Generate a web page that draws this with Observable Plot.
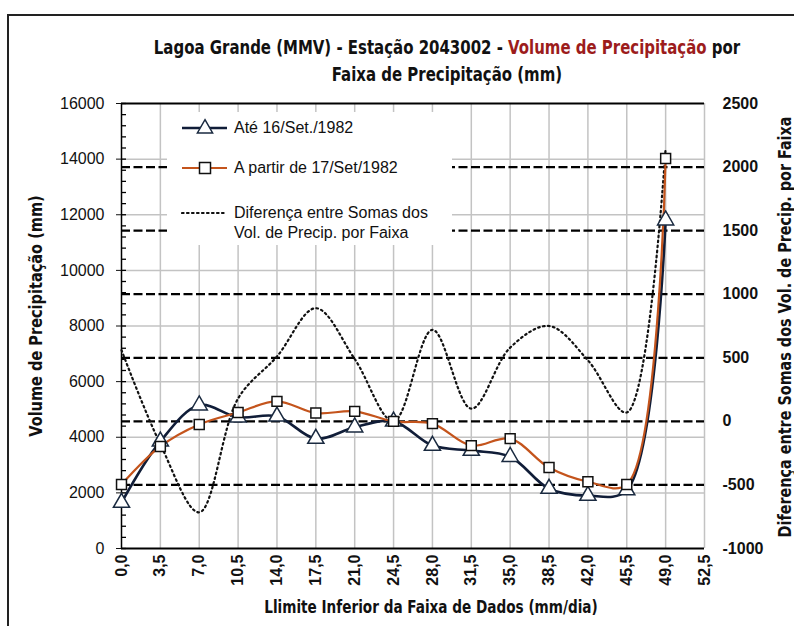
<!DOCTYPE html>
<html>
<head>
<meta charset="utf-8">
<script src="https://cdn.jsdelivr.net/npm/d3@7"></script>
<script src="https://cdn.jsdelivr.net/npm/@observablehq/plot@0.6"></script>
<style>
  html, body { margin: 0; padding: 0; background: #fff; }
  #wrap { position: relative; width: 794px; height: 626px; overflow: hidden; font-family: "Liberation Sans", Arial, sans-serif; }
  #frame { position: absolute; left: 7px; top: 14px; width: 800px; height: 640px; border-left: 2px solid #222; border-top: 2px solid #222; }
  #title { position: absolute; left: 100px; width: 694px; top: 34px; text-align: center; font-family: "DejaVu Sans Condensed", "DejaVu Sans", sans-serif; font-stretch: condensed; font-weight: bold; font-size: 19px; line-height: 27px; color: #111; transform: scaleX(0.875); transform-origin: 347px 0; }
  #title .red { color: #9c1c1c; }
  #legend { position: absolute; left: 167px; top: 112px; width: 285px; height: 133px; background: #fff; }
  #legend .item { position: absolute; left: 0; font-size: 16px; color: #111; line-height: 20px; }
  #legend svg { position: absolute; left: 14px; }
  #legend .txt { position: absolute; left: 67px; white-space: nowrap; }
  .axt { position: absolute; font-family: "DejaVu Sans Condensed", "DejaVu Sans", sans-serif; font-stretch: condensed; font-weight: bold; font-size: 17px; color: #111; white-space: nowrap; }
</style>
</head>
<body>
<div id="wrap">
  <div id="chart"></div>
  <div id="frame"></div>
  <div id="title"></div>
  <div id="legend"></div>
  <div class="axt" id="ytitle"></div>
  <div class="axt" id="y2title"></div>
  <div class="axt" id="xtitle"></div>
</div>
<script>
// ---- data ----
const limiteInferior = [0, 3.5, 7, 10.5, 14, 17.5, 21, 24.5, 28, 31.5, 35, 38.5, 42, 45.5, 49];
const ate16Set1982   = [1650, 3850, 5150, 4720, 4750, 3950, 4360, 4570, 3700, 3520, 3300, 2150, 1900, 2100, 11800];
const aPartir17Set1982 = [2300, 3670, 4460, 4890, 5290, 4870, 4930, 4570, 4490, 3700, 3950, 2910, 2400, 2300, 14020];
const diferencaSomas = [560, -180, -715, 180, 510, 890, 490, 0, 720, 100, 580, 750, 480, 70, 2150];

const xTicks = [0, 3.5, 7, 10.5, 14, 17.5, 21, 24.5, 28, 31.5, 35, 38.5, 42, 45.5, 49, 52.5];
const yTicks = [0, 2000, 4000, 6000, 8000, 10000, 12000, 14000, 16000];
const yMinorTicks = d3.range(0, 16001, 400);
const y2Ticks = [-1000, -500, 0, 500, 1000, 1500, 2000, 2500];

const titleParts = [
  {text: "Lagoa Grande (MMV) - ", red: false},
  {text: "Estação 2043002 - ", red: false},
  {text: "Volume de Precipitação", red: true},
  {text: " por", red: false}
];
const titleLine2 = "Faixa de Precipitação (mm)";
const seriesNames = ["Até 16/Set./1982", "A partir de 17/Set/1982", "Diferença entre Somas dos", "Vol. de Precip. por Faixa"];
const yLabel = "Volume de Precipitação (mm)";
const y2Label = "Diferença entre Somas dos Vol. de Precip. por Faixa";
const xLabel = "Llimite Inferior da Faixa de Dados (mm/dia)";

// ---- helpers ----
const Y_MAX = 16000, Y2_MIN = -1000, Y2_MAX = 2500;
const toLeft = v => (v - Y2_MIN) * Y_MAX / (Y2_MAX - Y2_MIN);
const fromLeft = v => Math.round(v * (Y2_MAX - Y2_MIN) / Y_MAX + Y2_MIN);

const s1 = limiteInferior.map((x, i) => ({x, y: ate16Set1982[i]}));
const s2 = limiteInferior.map((x, i) => ({x, y: aPartir17Set1982[i]}));
const s3 = limiteInferior.map((x, i) => ({x, y: toLeft(diferencaSomas[i])}));

const navy = "#101d38", orange = "#c4541c";
const W = 794, H = 626, mL = 121, mR = 90, mT = 103, mB = 78;
const plotW = W - mL - mR;

const chart = Plot.plot({
  width: W, height: H,
  marginLeft: mL, marginRight: mR, marginTop: mT, marginBottom: mB,
  style: {fontFamily: '"Liberation Sans", Arial, sans-serif', fontSize: "16px", color: "#111", background: "transparent"},
  x: {domain: [0, 52.5]},
  y: {domain: [0, Y_MAX]},
  marks: [
    Plot.ruleX(xTicks.filter(d => d > 0), {stroke: "#c3c3c3", strokeWidth: 1.5, strokeOpacity: 1}),
    Plot.ruleY(yTicks.filter(d => d > 0 && d < Y_MAX), {stroke: "#c3c3c3", strokeWidth: 1.5, strokeOpacity: 1}),
    Plot.ruleY(y2Ticks.filter(d => d > Y2_MIN && d < Y2_MAX).map(toLeft), {stroke: "#000", strokeWidth: 2.2, strokeDasharray: "9,3.5"}),
    Plot.ruleY([Y_MAX], {stroke: "#000", strokeWidth: 2}),
    Plot.ruleY([0], {stroke: "#000", strokeWidth: 2}),
    Plot.ruleX([0], {stroke: "#000", strokeWidth: 1.5}),
    Plot.ruleY(yMinorTicks, {stroke: "#000", strokeWidth: 1.3, insetRight: plotW - 5}),
    Plot.axisY(yTicks, {anchor: "left", tickSize: 5, tickPadding: 12, label: null, fontSize: 16, tickFormat: d => String(d)}),
    Plot.axisY(y2Ticks.map(toLeft), {anchor: "right", tickSize: 0, tickPadding: 18, label: null, fontSize: 16, fontWeight: "bold", tickFormat: d => String(fromLeft(d))}),
    Plot.axisX(xTicks, {anchor: "bottom", tickSize: 0, tickPadding: 6, tickRotate: -90, label: null, fontSize: 16, fontWeight: "bold", tickFormat: d => d.toFixed(1).replace(".", ",")}),
    Plot.line(s3, {x: "x", y: "y", curve: "catmull-rom", stroke: "#111", strokeWidth: 2.2, strokeDasharray: "1.6,3.4", strokeLinecap: "round"}),
    Plot.line(s1, {x: "x", y: "y", curve: "catmull-rom", stroke: navy, strokeWidth: 2.6}),
    Plot.line(s2, {x: "x", y: "y", curve: "catmull-rom", stroke: orange, strokeWidth: 2.2}),
    Plot.dot(s1, {x: "x", y: "y", symbol: "triangle", r: 6, fill: "#fff", stroke: "#1a2a40", strokeWidth: 1.5}),
    Plot.dot(s2, {x: "x", y: "y", symbol: "square", r: 5.6, fill: "#fff", stroke: "#111", strokeWidth: 1.5})
  ]
});
document.getElementById("chart").appendChild(chart);

// title
const t = document.getElementById("title");
const l1 = document.createElement("div");
titleParts.forEach(p => { const s = document.createElement("span"); s.textContent = p.text; if (p.red) s.className = "red"; l1.appendChild(s); });
t.appendChild(l1);
const l2 = document.createElement("div"); l2.textContent = titleLine2; t.appendChild(l2);

// legend
const lg = document.getElementById("legend");
function legendItem(top, svgInner, lines) {
  const it = document.createElement("div"); it.className = "item"; it.style.top = top + "px";
  it.innerHTML = '<svg width="48" height="20" style="top:0">' + svgInner + '</svg>';
  lines.forEach((ln, i) => { const d = document.createElement("div"); d.className = "txt"; d.style.top = (i * 20) + "px"; d.textContent = ln; it.appendChild(d); });
  lg.appendChild(it);
}
legendItem(6, `<line x1="1" x2="46" y1="10" y2="10" stroke="${navy}" stroke-width="2.6"/><path d="${d3.symbol(d3.symbolTriangle, 100)()}" transform="translate(24,10.5)" fill="#fff" stroke="#1a2a40" stroke-width="1.5"/>`, [seriesNames[0]]);
legendItem(46, `<line x1="1" x2="46" y1="10" y2="10" stroke="${orange}" stroke-width="2.2"/><rect x="18.5" y="4.5" width="11" height="11" fill="#fff" stroke="#111" stroke-width="1.5"/>`, [seriesNames[1]]);
legendItem(91, `<line x1="1" x2="46" y1="10" y2="10" stroke="#111" stroke-width="2.2" stroke-dasharray="1.6,3.4" stroke-linecap="round"/>`, [seriesNames[2], seriesNames[3]]);

// axis titles
const yt = document.getElementById("ytitle");
yt.textContent = yLabel;
yt.style.left = "36px"; yt.style.top = "316px"; yt.style.transform = "translate(-50%,-50%) rotate(-90deg) scaleX(0.95)";
const y2t = document.getElementById("y2title");
y2t.textContent = y2Label;
y2t.style.left = "785px"; y2t.style.top = "327px"; y2t.style.transform = "translate(-50%,-50%) rotate(-90deg) scaleX(0.94)";
const xt = document.getElementById("xtitle");
xt.textContent = xLabel;
xt.style.left = "431px"; xt.style.top = "607px"; xt.style.transform = "translate(-50%,-50%) scaleX(0.89)";
</script>
</body>
</html>
